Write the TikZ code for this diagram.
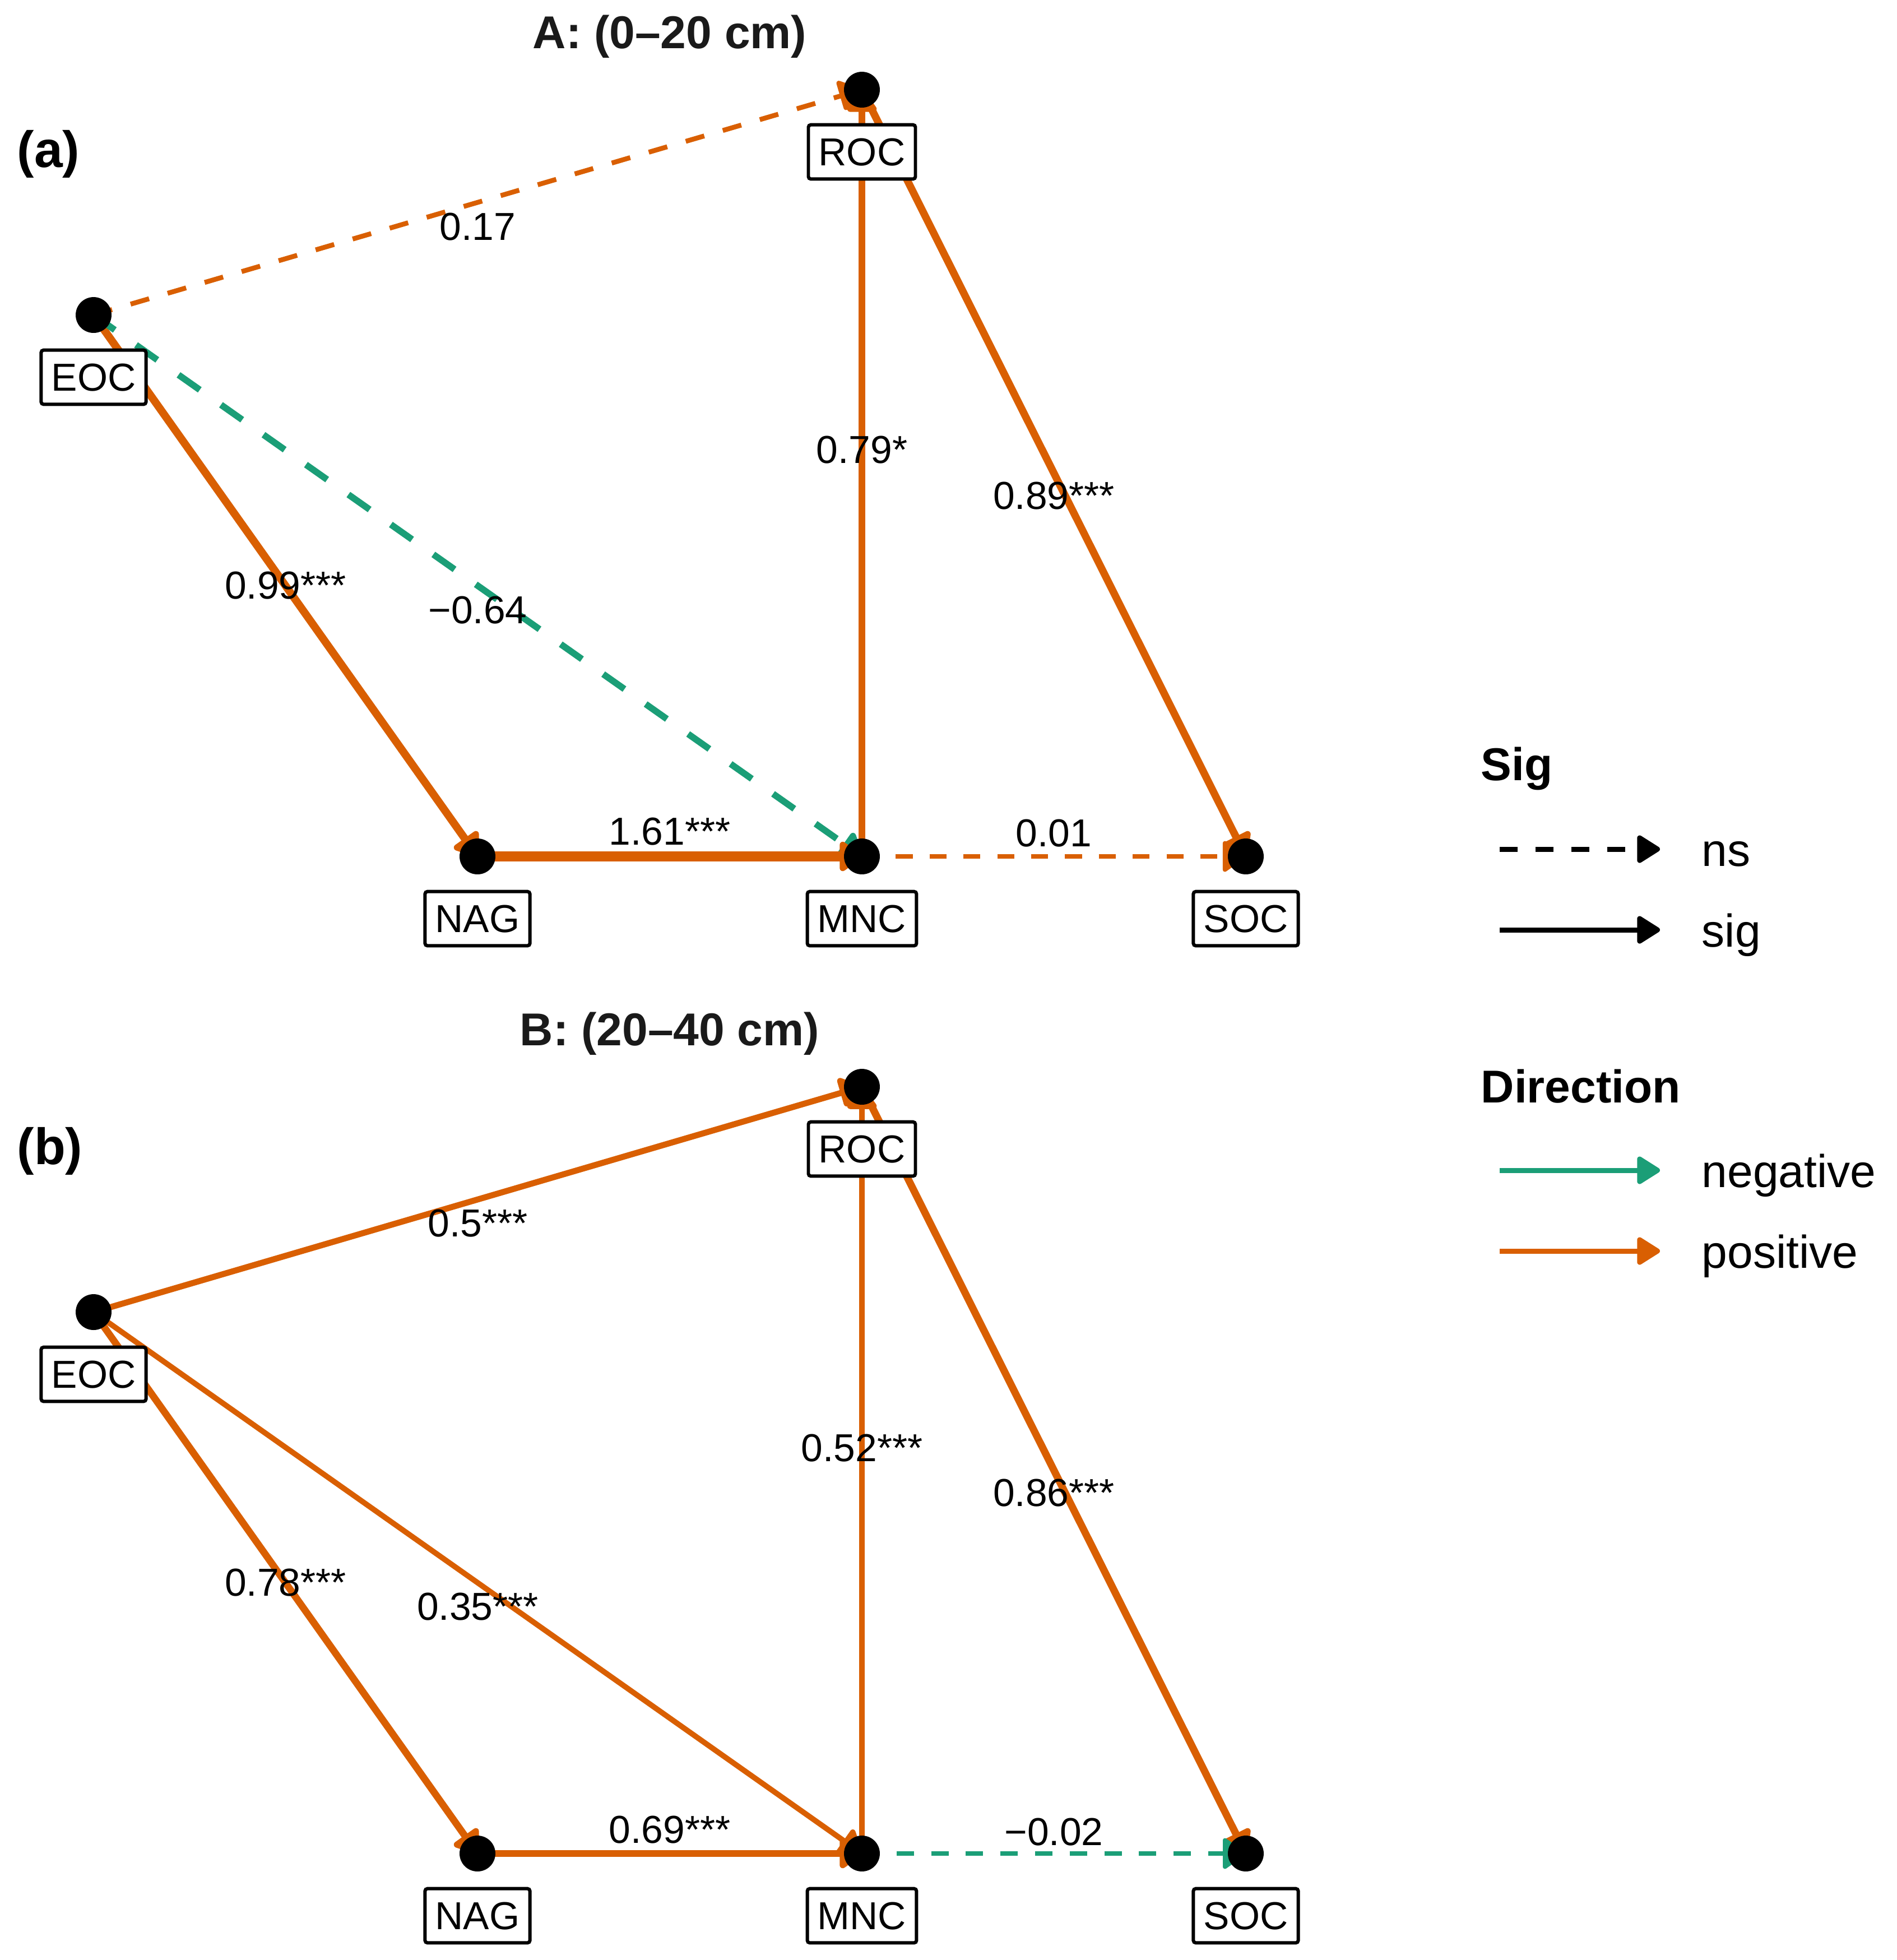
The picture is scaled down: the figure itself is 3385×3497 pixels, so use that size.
\documentclass[tikz,border=0pt]{standalone}
\usepackage{fontspec}
\setmainfont{Liberation Sans}
\usetikzlibrary{calc,arrows.meta}

\definecolor{posit}{HTML}{D95F02}
\definecolor{negat}{HTML}{1B9E77}
\definecolor{titgray}{HTML}{1A1A1A}

\tikzset{
	head/.style={-{Triangle[length=0.22cm,width=0.30cm,round]}},
	keyhead/.style={-{Triangle[length=0.225cm,width=0.27cm,round]}},
	varbox/.style={draw, fill=white, line width=0.85pt, rounded corners=0.6pt,
		inner xsep=2.6pt, minimum height=0.45cm, text height=7.1pt, text depth=0pt,
		font=\fontsize{9.9}{11}\selectfont},
	coef/.style={inner sep=0pt, font=\fontsize{9.9}{11}\selectfont},
	paneltitle/.style={anchor=base, text=titgray, font=\bfseries\fontsize{11.7}{14}\selectfont},
	tag/.style={anchor=base west, font=\bfseries\fontsize{13}{15}\selectfont},
	keytitle/.style={anchor=base west, font=\bfseries\fontsize{11.7}{14}\selectfont},
	keytext/.style={anchor=base west, font=\fontsize{11.7}{14}\selectfont},
}

\begin{document}
\begin{tikzpicture}[x=0.005cm, y=-0.005cm]

% canvas %{{{1

	\useasboundingbox (0,0) rectangle (3385,3497);

% coordinates %{{{1

	\coordinate (EOCa) at (167,562);
	\coordinate (ROCa) at (1538,160);
	\coordinate (NAGa) at (852,1528);
	\coordinate (MNCa) at (1538,1528);
	\coordinate (SOCa) at (2223,1528);

	\begin{scope}[shift={(0,1779)}]
		\coordinate (EOCb) at (167,562);
		\coordinate (ROCb) at (1538,160);
		\coordinate (NAGb) at (852,1528);
		\coordinate (MNCb) at (1538,1528);
		\coordinate (SOCb) at (2223,1528);
	\end{scope}

% lines, panel A %{{{1

	\draw[head, posit, line width=1.23pt, dash pattern=on 4.9pt off 4.9pt] (EOCa) -- (ROCa);
	\draw[head, posit, line width=1.98pt] (EOCa) -- (NAGa);
	\draw[head, negat, line width=1.66pt, dash pattern=on 6.6pt off 6.6pt] (EOCa) -- (MNCa);
	\draw[head, posit, line width=2.55pt] (NAGa) -- (MNCa);
	\draw[head, posit, line width=1.80pt] (MNCa) -- (ROCa);
	\draw[head, posit, line width=1.89pt] (ROCa) -- (SOCa);
	\draw[head, posit, line width=1.08pt, dash pattern=on 4.3pt off 4.3pt] (MNCa) -- (SOCa);

% lines, panel B %{{{1

	\draw[head, posit, line width=1.53pt] (EOCb) -- (ROCb);
	\draw[head, posit, line width=1.79pt] (EOCb) -- (NAGb);
	\draw[head, posit, line width=1.39pt] (EOCb) -- (MNCb);
	\draw[head, posit, line width=1.70pt] (NAGb) -- (MNCb);
	\draw[head, posit, line width=1.55pt] (MNCb) -- (ROCb);
	\draw[head, posit, line width=1.86pt] (ROCb) -- (SOCb);
	\draw[head, negat, line width=1.09pt, dash pattern=on 4.4pt off 4.4pt] (MNCb) -- (SOCb);

% points, dots, vertices %{{{1

	\fill (EOCa) circle (0.16cm);
	\fill (ROCa) circle (0.16cm);
	\fill (NAGa) circle (0.16cm);
	\fill (MNCa) circle (0.16cm);
	\fill (SOCa) circle (0.16cm);

	\fill (EOCb) circle (0.16cm);
	\fill (ROCb) circle (0.16cm);
	\fill (NAGb) circle (0.16cm);
	\fill (MNCb) circle (0.16cm);
	\fill (SOCb) circle (0.16cm);

% points, dots, vertices labels %{{{1

	\node[varbox] (EOCaL) at ($(EOCa)+(0,111)$) {EOC};
	\node[varbox] (ROCaL) at ($(ROCa)+(0,111)$) {ROC};
	\node[varbox] (NAGaL) at ($(NAGa)+(0,111)$) {NAG};
	\node[varbox] (MNCaL) at ($(MNCa)+(0,111)$) {MNC};
	\node[varbox] (SOCaL) at ($(SOCa)+(0,111)$) {SOC};

	\node[varbox] (EOCbL) at ($(EOCb)+(0,111)$) {EOC};
	\node[varbox] (ROCbL) at ($(ROCb)+(0,111)$) {ROC};
	\node[varbox] (NAGbL) at ($(NAGb)+(0,111)$) {NAG};
	\node[varbox] (MNCbL) at ($(MNCb)+(0,111)$) {MNC};
	\node[varbox] (SOCbL) at ($(SOCb)+(0,111)$) {SOC};

% segments labels %{{{1

	\node[coef] (ERa) at ($(EOCa)!0.5!(ROCa)+(0,44)$) {0.17};
	\node[coef] (ENa) at ($(EOCa)!0.5!(NAGa)$) {0.99***};
	\node[coef] (EMa) at ($(EOCa)!0.5!(MNCa)+(0,44)$) {−0.64};
	\node[coef] (NMa) at ($(NAGa)!0.5!(MNCa)+(0,-44)$) {1.61***};
	\node[coef] (MRa) at ($(MNCa)!0.5!(ROCa)+(0,-41)$) {0.79*};
	\node[coef] (RSa) at ($(ROCa)!0.5!(SOCa)+(0,41)$) {0.89***};
	\node[coef] (MSa) at ($(MNCa)!0.5!(SOCa)+(0,-41)$) {0.01};

	\node[coef] (ERb) at ($(EOCb)!0.5!(ROCb)+(0,43)$) {0.5***};
	\node[coef] (ENb) at ($(EOCb)!0.5!(NAGb)$) {0.78***};
	\node[coef] (EMb) at ($(EOCb)!0.5!(MNCb)+(0,43)$) {0.35***};
	\node[coef] (NMb) at ($(NAGb)!0.5!(MNCb)+(0,-42)$) {0.69***};
	\node[coef] (MRb) at ($(MNCb)!0.5!(ROCb)+(0,-39)$) {0.52***};
	\node[coef] (RSb) at ($(ROCb)!0.5!(SOCb)+(0,41)$) {0.86***};
	\node[coef] (MSb) at ($(MNCb)!0.5!(SOCb)+(0,-38)$) {−0.02};

% titles %{{{1

	\node[paneltitle] (titleA) at (1195,86) {A: (0–20 cm)};
	\node[paneltitle] (titleB) at (1195,1865) {B: (20–40 cm)};
	\node[tag] (tagA) at (6,298) {(a)};
	\node[tag] (tagB) at (6,2077) {(b)};

% legend %{{{1

	\coordinate (nsL) at (2676,1515);
	\coordinate (nsR) at (2962,1515);
	\coordinate (sigL) at (2676,1659);
	\coordinate (sigR) at (2962,1659);
	\coordinate (negL) at (2676,2088);
	\coordinate (negR) at (2962,2088);
	\coordinate (posL) at (2676,2232);
	\coordinate (posR) at (2962,2232);

	\node[keytitle] (keySig) at (2618,1392) {Sig};
	\draw[keyhead, line width=1.28pt, dash pattern=on 4.55pt off 4.55pt] (nsL) -- (nsR);
	\draw[keyhead, line width=1.28pt] (sigL) -- (sigR);
	\node[keytext] (keyNs) at (3012,1545) {ns};
	\node[keytext] (keyS) at (3012,1689) {sig};

	\node[keytitle] (keyDir) at (2618,1967) {Direction};
	\draw[keyhead, negat, line width=1.28pt] (negL) -- (negR);
	\draw[keyhead, posit, line width=1.28pt] (posL) -- (posR);
	\node[keytext] (keyNeg) at (3012,2118) {negative};
	\node[keytext] (keyPos) at (3012,2262) {positive};

% closing %{{{1

\end{tikzpicture}
\end{document}
